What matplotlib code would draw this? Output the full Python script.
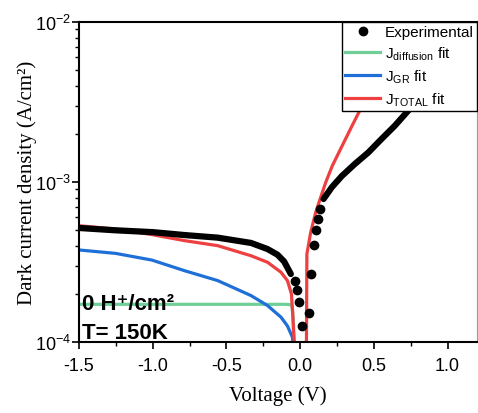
import matplotlib
matplotlib.use("Agg")
import matplotlib.pyplot as plt
from matplotlib.ticker import MultipleLocator, LogLocator

plt.rcParams['font.family'] = ['Liberation Sans', 'DejaVu Sans']
plt.rcParams['axes.unicode_minus'] = False

v_rev = [-1.5, -1.252, -1.0, -0.784, -0.559, -0.333, -0.221, -0.153, -0.108, -0.063]
j_rev = [5.16e-4, 4.99e-4, 4.86e-4, 4.66e-4, 4.49e-4, 4.16e-4, 3.81e-4, 3.51e-4, 3.18e-4, 2.66e-4]
v_mid = [-0.036, -0.018, -0.007, 0.011, 0.061, 0.074, 0.091, 0.107, 0.122, 0.137]
j_mid = [2.40e-4, 2.10e-4, 1.79e-4, 1.25e-4, 1.51e-4, 2.66e-4, 4.04e-4, 5.01e-4, 5.87e-4, 6.78e-4]
v_fwd = [0.159, 0.215, 0.283, 0.373, 0.463, 0.553, 0.643, 0.733, 0.82]
j_fwd = [7.83e-4, 9.27e-4, 1.09e-3, 1.30e-3, 1.53e-3, 1.86e-3, 2.25e-3, 2.79e-3, 3.5e-3]

# fits
v_diff = [-1.5, -1.0, -0.5, -0.1, -0.063, -0.055, -0.05, -0.045, -0.04, -0.03]
j_diff = [1.72e-4, 1.72e-4, 1.72e-4, 1.72e-4, 1.71e-4, 1.66e-4, 1.5e-4, 1.3e-4, 1.0e-4, 6e-5]
v_gr = [-1.5, -1.252, -1.005, -0.784, -0.559, -0.333, -0.221, -0.130, -0.086, -0.052, -0.04, -0.03]
j_gr = [3.76e-4, 3.58e-4, 3.25e-4, 2.79e-4, 2.42e-4, 1.95e-4, 1.69e-4, 1.43e-4, 1.26e-4, 1.07e-4, 7e-5, 4e-5]
v_tot = [-1.5, -1.252, -1.005, -0.784, -0.559, -0.333, -0.221, -0.130, -0.086, -0.059, -0.050,
         -0.045, -0.03, 0.01, 0.042, 0.044, 0.046, 0.072, 0.083, 0.106, 0.128, 0.174, 0.218,
         0.286, 0.353, 0.41, 0.5]
j_tot = [5.33e-4, 5.08e-4, 4.69e-4, 4.30e-4, 4.00e-4, 3.46e-4, 3.15e-4, 2.73e-4, 2.42e-4, 2.0e-4, 1.50e-4,
         1.18e-4, 7e-5, 1e-6, 7e-5, 1.5e-4, 3.55e-4, 4.86e-4, 5.33e-4, 6.47e-4, 7.46e-4, 9.96e-4, 1.26e-3,
         1.69e-3, 2.25e-3, 2.86e-3, 3.9e-3]

fig = plt.figure(figsize=(4.78, 4.14), dpi=100)
ax = fig.add_axes([79/478, 1-343/414, 398/478, 320/414])

ax.plot(v_mid, j_mid, 'o', color='k', ms=6, label='Experimental', zorder=4)
ax.plot(v_rev, j_rev, '-', color='k', lw=4.5, solid_capstyle='round', zorder=4)
ax.plot(v_fwd, j_fwd, '-', color='k', lw=4.5, solid_capstyle='round', zorder=4)
ax.plot(v_diff, j_diff, color='#6fcf97', lw=2.3, label='J$_\\mathregular{diffusion}$ fit')
ax.plot(v_gr, j_gr, color='#1f6fd8', lw=2.3, label='J$_\\mathregular{GR}$ fit')
ax.plot(v_tot, j_tot, color='#ee4040', lw=2.3, label='J$_\\mathregular{TOTAL}$ fit')

ax.set_yscale('log')
ax.set_xlim(-1.5, 1.2)
ax.set_ylim(1e-4, 1e-2)
ax.xaxis.set_major_locator(MultipleLocator(0.5))
ax.xaxis.set_minor_locator(MultipleLocator(0.25))
ax.yaxis.set_minor_locator(LogLocator(subs=range(2, 10)))
ax.tick_params(which='major', length=5, width=1.2, labelsize=13)
ax.tick_params(which='minor', length=3, width=1)
ax.tick_params(axis='x', which='major', pad=6)
ax.tick_params(axis='y', which='major', pad=1)
ax.tick_params(axis='y', which='minor', labelleft=False)
for s in ['left', 'bottom', 'top']:
    ax.spines[s].set_linewidth(1.5)
ax.spines['right'].set_color('#999999')

ax.set_xlabel('Voltage (V)', family='Liberation Serif', fontsize=15, labelpad=8)
ax.set_ylabel('Dark current density (A/cm²)', family='Liberation Serif', fontsize=15, labelpad=-2)

ax.text(0.007, 0.103, '0 H⁺/cm²', transform=ax.transAxes, fontsize=16,
        fontweight='bold', va='baseline', zorder=6)
ax.text(0.007, 0.0125, 'T= 150K', transform=ax.transAxes, fontsize=16,
        fontweight='bold', va='baseline', zorder=6)

leg = ax.legend(loc='upper right', fontsize=11, frameon=True, fancybox=False,
                framealpha=1, edgecolor='k', borderaxespad=0, borderpad=0.2,
                handlelength=2.3, handletextpad=0.3, labelspacing=0.35, numpoints=1)
leg.get_frame().set_linewidth(1)

fig.savefig('out.png', dpi=100)
